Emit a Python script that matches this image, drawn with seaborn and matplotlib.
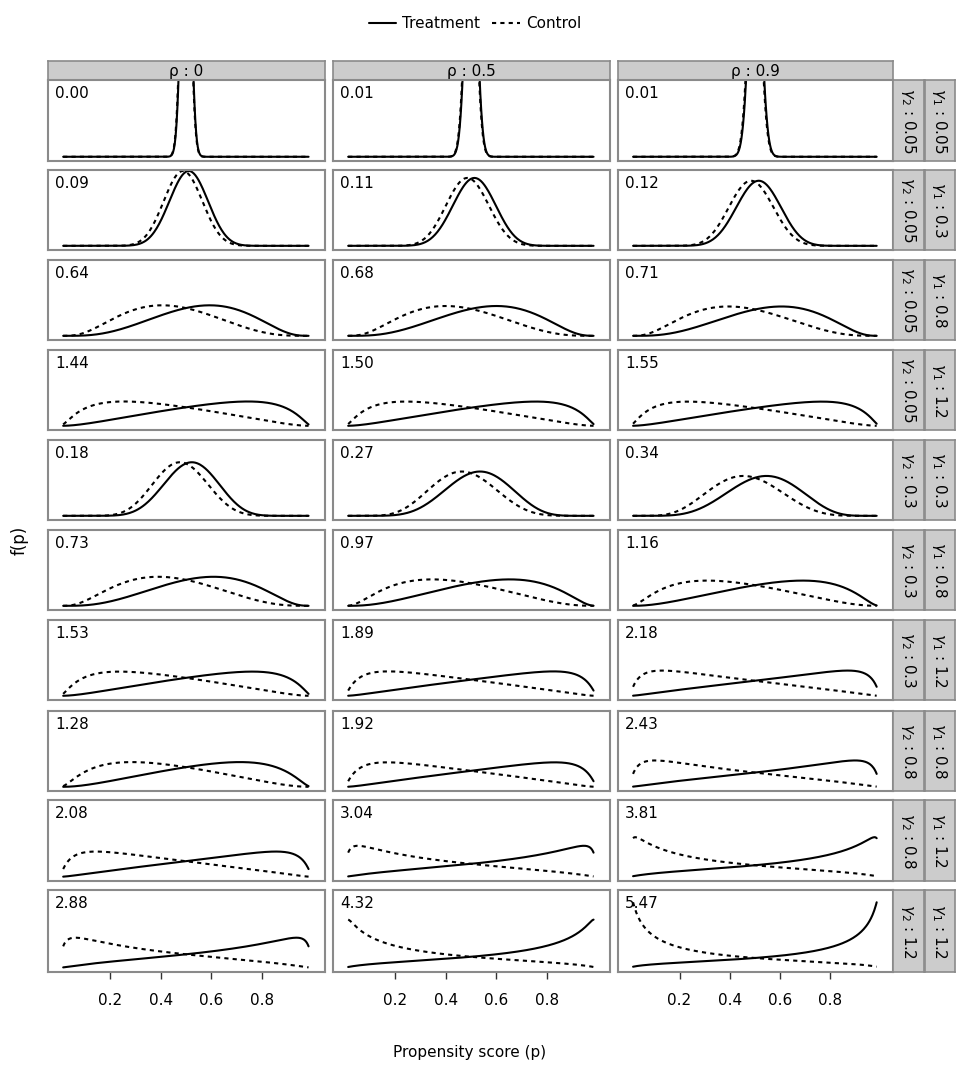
import matplotlib.pyplot as plt
import seaborn as sns
import numpy as np
import pandas as pd
from matplotlib.lines import Line2D

sns.set_style("white")
plt.rcParams.update({"font.family": ["DejaVu Sans"], "font.size": 11,
                     "text.color": "black", "xtick.color": "#333333",
                     "xtick.labelcolor": "black"})

# facet labels
rho_labels = ["0", "0.5", "0.9"]
gamma1_labels = ["0.05", "0.3", "0.8", "1.2", "0.3", "0.8", "1.2", "0.8", "1.2", "1.2"]
gamma2_labels = ["0.05", "0.05", "0.05", "0.05", "0.3", "0.3", "0.3", "0.8", "0.8", "1.2"]

# variance of linear predictor shown in each panel (row x column)
panel_values = [
    [0.00, 0.01, 0.01],
    [0.09, 0.11, 0.12],
    [0.64, 0.68, 0.71],
    [1.44, 1.50, 1.55],
    [0.18, 0.27, 0.34],
    [0.73, 0.97, 1.16],
    [1.53, 1.89, 2.18],
    [1.28, 1.92, 2.43],
    [2.08, 3.04, 3.81],
    [2.88, 4.32, 5.47],
]
# exact variances (0.00 / 0.01 rounded in the labels)
exact_first_row = [0.005, 0.0075, 0.0095]

p = np.linspace(0.015, 0.985, 300)


def curves(var):
    sd = np.sqrt(var)
    z = np.log(p / (1 - p))
    f = np.exp(-0.5 * (z / sd) ** 2) / (sd * np.sqrt(2 * np.pi) * p * (1 - p))
    return 2 * p * f, 2 * (1 - p) * f


fig = plt.figure(figsize=(9.56, 10.73), dpi=100)
W, H = 956, 1073
col_x = [(48, 325), (333, 610), (618, 893)]
row_y = [(80, 161), (170, 250), (260, 340), (350, 430), (440, 520),
         (530, 610), (620, 700), (711, 791), (800, 881), (890, 972)]
edge = "#8a8a8a"
strip_fc = "#cccccc"


def box(x0, x1, y0, y1):
    return fig.add_axes([x0 / W, 1 - y1 / H, (x1 - x0) / W, (y1 - y0) / H])


for c, (x0, x1) in enumerate(col_x):
    sa = box(x0, x1, 61, 80)
    sa.set_facecolor(strip_fc)
    sa.set_xticks([]); sa.set_yticks([])
    for s in sa.spines.values():
        s.set_color(edge); s.set_linewidth(1.2)
    sa.text(0.5, 0.45, f"\u03c1 : {rho_labels[c]}", ha="center", va="center", fontsize=11)

for r, (y0, y1) in enumerate(row_y):
    for c, (x0, x1) in enumerate(col_x):
        ax = box(x0, x1, y0, y1)
        var = exact_first_row[c] if r == 0 else panel_values[r][c]
        t, k = curves(var)
        df = pd.DataFrame({"p": np.concatenate([p, p]),
                           "f": np.concatenate([t, k]),
                           "group": ["Treatment"] * len(p) + ["Control"] * len(p)})
        sns.lineplot(data=df, x="p", y="f", style="group", color="black",
                     dashes={"Treatment": "", "Control": (2, 2)},
                     linewidth=1.5, legend=False, ax=ax)
        ax.set_xlim(-0.045, 1.05)
        ax.set_ylim(-0.3, 5.45)
        ax.set_xlabel(""); ax.set_ylabel("")
        ax.set_yticks([])
        if r == len(row_y) - 1:
            ax.set_xticks([0.2, 0.4, 0.6, 0.8])
            ax.tick_params(axis="x", bottom=True, length=5, width=1, color="#333333",
                           labelsize=11, pad=10)
        else:
            ax.set_xticks([])
        for s in ax.spines.values():
            s.set_color(edge); s.set_linewidth(1.5)
        ax.text(0.025, 0.93, f"{panel_values[r][c]:.2f}", transform=ax.transAxes,
                ha="left", va="top", fontsize=11)
    for (sx0, sx1, lab) in [(893, 924, f"$\\gamma_2$ : {gamma2_labels[r]}"),
                            (925, 955, f"$\\gamma_1$ : {gamma1_labels[r]}")]:
        sa = box(sx0, sx1, y0, y1)
        sa.set_facecolor(strip_fc)
        sa.set_xticks([]); sa.set_yticks([])
        for s in sa.spines.values():
            s.set_color(edge); s.set_linewidth(1.2)
        sa.text(0.5, 0.5, lab, rotation=270, ha="center", va="center", fontsize=11)

fig.text(20 / W, 1 - 540 / H, "f(p)", rotation=90, ha="center", va="center", fontsize=12)
fig.text(470 / W, 1 - 1053 / H, "Propensity score (p)", ha="center", va="center", fontsize=11)

handles = [Line2D([], [], color="black", lw=1.5),
           Line2D([], [], color="black", lw=1.5, dashes=(2, 2))]
fig.legend(handles, ["Treatment", "Control"], loc="center", ncol=2,
           bbox_to_anchor=(475 / W, 1 - 24 / H), frameon=False, fontsize=11,
           handlelength=1.8, columnspacing=0.8, handletextpad=0.4)

fig.savefig("out.png", dpi=100)
